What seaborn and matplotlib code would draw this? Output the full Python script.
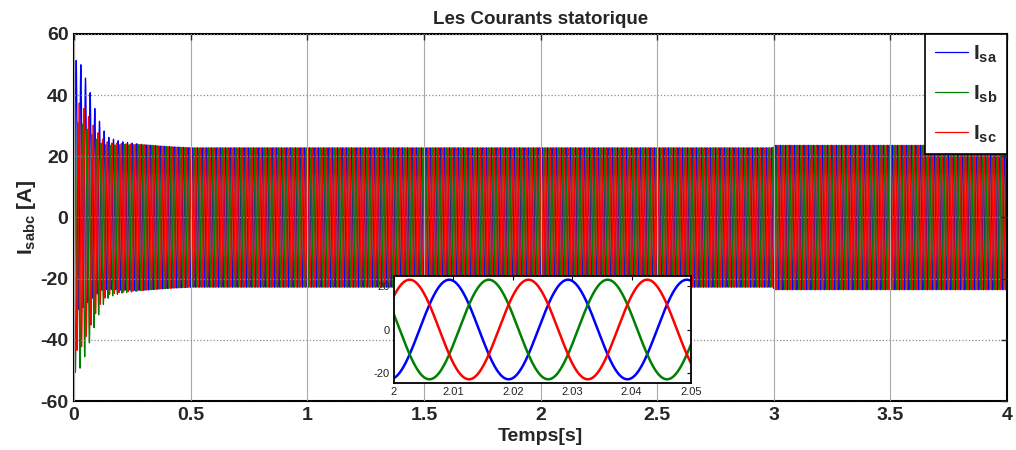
import numpy as np
import pandas as pd
import matplotlib
matplotlib.use("Agg")
import matplotlib.pyplot as plt
from matplotlib.lines import Line2D
import seaborn as sns

# --- signal description -------------------------------------------------
f_supply = 50.0            # Hz
phase_a0 = -1.35           # rad, phase of I_sa at t = 0
phases = ["sa", "sb", "sc"]
phase_shift_deg = [0.0, -120.0, 120.0]
colors = ["#0000ff", "#008000", "#ff0000"]
labels = [r"$\mathbf{I_{sa}}$", r"$\mathbf{I_{sb}}$", r"$\mathbf{I_{sc}}$"]

# peak-current envelope (A) during start-up, steady state and load step at 3 s
env_t = [0.00, 0.03, 0.06, 0.09, 0.12, 0.15, 0.20, 0.30, 0.40, 0.50, 1.00, 2.995, 3.005, 4.00]
env_amp = [41.0, 40.0, 35.5, 30.5, 26.5, 24.8, 24.3, 23.8, 23.2, 22.8, 22.8, 22.8, 23.6, 23.6]

# decaying DC component of each phase at switch-on (A)
dc_offset = [11.0, -10.0, -3.0]
dc_t = [0.00, 0.03, 0.06, 0.09, 0.12, 0.15, 0.20, 0.30]
dc_frac = [1.00, 0.90, 0.70, 0.45, 0.25, 0.12, 0.05, 0.00]

t_end = 4.0
dt = 5e-5

x_ticks = [0, 0.5, 1, 1.5, 2, 2.5, 3, 3.5, 4]
x_ticklabels = ["0", "0.5", "1", "1.5", "2", "2.5", "3", "3.5", "4"]
y_ticks = [-60, -40, -20, 0, 20, 40, 60]
inset_window = [2.0, 2.05]
inset_xticks = [2.0, 2.01, 2.02, 2.03, 2.04, 2.05]
inset_xticklabels = ["2", "2.01", "2.02", "2.03", "2.04", "2.05"]
inset_yticks = [-20, 0, 20]

# --- build the three phase currents -------------------------------------
t = np.arange(0.0, t_end + dt / 2, dt)
amp = np.interp(t, env_t, env_amp)
dc = np.interp(t, dc_t, dc_frac)
theta = 2 * np.pi * f_supply * t + phase_a0
frames = []
for name, shift, off in zip(phases, phase_shift_deg, dc_offset):
    i = amp * np.sin(theta + np.deg2rad(shift)) + off * dc
    frames.append(pd.DataFrame({"t": t, "i": i, "phase": name}))
df = pd.concat(frames, ignore_index=True)
palette = dict(zip(phases, colors))

# --- styling ------------------------------------------------------------
sns.set_style("white")
plt.rcParams["font.family"] = ["Liberation Sans", "DejaVu Sans"]
plt.rcParams["mathtext.fontset"] = "custom"
plt.rcParams["mathtext.bf"] = "Liberation Sans:bold"
plt.rcParams["mathtext.rm"] = "Liberation Sans"
plt.rcParams["mathtext.it"] = "Liberation Sans:italic"
plt.rcParams["axes.unicode_minus"] = False

fig = plt.figure(figsize=(10.16, 4.5), dpi=100)
ax = fig.add_axes([74 / 1016, 49 / 450, 933 / 1016, 367 / 450])

sns.lineplot(data=df, x="t", y="i", hue="phase", hue_order=phases, palette=palette,
             estimator=None, sort=False, lw=0.9, legend=False, ax=ax)

ax.set_xlim(0, 4)
ax.set_ylim(-60, 60)
ax.set_xticks(x_ticks)
ax.set_xticklabels(x_ticklabels)
ax.set_yticks(y_ticks)
ax.tick_params(direction="in", length=4, width=1, top=True, right=True,
               labelsize=14, pad=4)
for lab in ax.get_xticklabels() + ax.get_yticklabels():
    lab.set_fontweight("bold")
for sp in ax.spines.values():
    sp.set_linewidth(1.5)
    sp.set_color("black")
ax.grid(True, axis="y", color="#8c8c8c", ls=":", lw=0.9)
ax.grid(True, axis="x", color="#a8a8a8", ls="-", lw=0.8)
ax.set_axisbelow(False)

ax.set_title("Les Courants statorique", fontsize=13.5, fontweight="bold", pad=7)
ax.set_xlabel("Temps[s]", fontsize=14, fontweight="bold", labelpad=3)
ax.set_ylabel(r"$\mathbf{I_{sabc}}$ [A]", fontsize=15, fontweight="bold", labelpad=2)

handles = [Line2D([0], [0], color=c, lw=0.9) for c in colors]
leg = ax.legend(handles, labels, loc="upper right", fontsize=15, frameon=True,
                fancybox=False, borderaxespad=0.0, handlelength=1.6,
                labelspacing=0.9, handletextpad=0.25, borderpad=0.45)
leg.get_frame().set_edgecolor("black")
leg.get_frame().set_linewidth(1.2)
leg.get_frame().set_alpha(1.0)

# --- zoom on a few periods ----------------------------------------------
axin = fig.add_axes([394 / 1016, 67 / 450, 297 / 1016, 107 / 450])
sub = df[(df["t"] >= inset_window[0] - dt) & (df["t"] <= inset_window[1] + dt)]
sns.lineplot(data=sub, x="t", y="i", hue="phase", hue_order=phases, palette=palette,
             estimator=None, sort=False, lw=1.8, legend=False, ax=axin)
axin.set_xlim(*inset_window)
axin.set_ylim(-24.5, 24.5)
axin.set_xticks(inset_xticks)
axin.set_xticklabels(inset_xticklabels)
axin.set_yticks(inset_yticks)
axin.set_xlabel("")
axin.set_ylabel("")
axin.tick_params(direction="in", length=3, width=0.8, top=True, right=True,
                 labelsize=8, pad=3, colors="black", labelcolor="#222222")
for sp in axin.spines.values():
    sp.set_linewidth(1.3)
    sp.set_color("black")
axin.set_facecolor("white")

fig.savefig("out.png", dpi=100)
